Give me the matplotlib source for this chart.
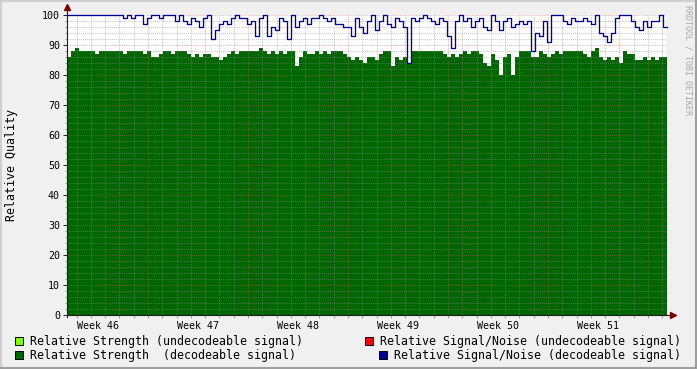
import numpy as np
import matplotlib
matplotlib.use("Agg")
import matplotlib.pyplot as plt
from matplotlib.patches import Rectangle
from matplotlib.lines import Line2D

# relative strength (decodeable), one sample per ~6.7 h
strength = [86, 88, 89, 88, 88, 88, 88, 87, 88, 88, 88, 88, 88, 88, 87, 88, 88, 88, 88, 87,
            88, 86, 86, 87, 88, 88, 87, 88, 88, 88, 87, 86, 87, 86, 87, 87, 86, 86, 85, 86,
            87, 88, 87, 88, 88, 88, 88, 88, 89, 88, 87, 88, 87, 88, 87, 88, 88, 83, 86, 88,
            87, 87, 88, 87, 88, 87, 88, 88, 88, 87, 86, 85, 86, 85, 84, 86, 86, 85, 87, 88,
            88, 83, 86, 85, 86, 84, 88, 88, 88, 88, 88, 88, 88, 88, 87, 86, 87, 86, 87, 88,
            87, 88, 88, 87, 84, 83, 87, 85, 80, 86, 87, 80, 86, 88, 88, 88, 86, 86, 88, 87,
            86, 87, 88, 87, 88, 88, 88, 88, 88, 87, 86, 88, 89, 86, 85, 86, 85, 86, 84, 88,
            87, 87, 85, 85, 86, 85, 86, 85, 86, 86]

# relative signal/noise (decodeable)
snr = [100, 100, 100, 100, 100, 100, 100, 100, 100, 100, 100, 100, 100, 100, 99, 100, 99, 100, 100, 97,
       99, 100, 100, 99, 100, 100, 100, 98, 100, 98, 97, 99, 98, 96, 99, 100, 92, 95, 97, 98,
       97, 99, 100, 99, 99, 97, 98, 93, 99, 100, 93, 96, 95, 99, 98, 92, 100, 96, 98, 99,
       97, 99, 99, 100, 99, 98, 99, 97, 97, 96, 96, 93, 99, 96, 94, 98, 100, 95, 98, 100,
       97, 96, 99, 98, 96, 84, 99, 98, 99, 100, 99, 98, 97, 99, 98, 93, 89, 98, 100, 98,
       99, 96, 98, 99, 96, 95, 100, 98, 95, 98, 99, 96, 97, 98, 97, 98, 88, 94, 93, 98,
       91, 100, 100, 100, 98, 97, 99, 98, 98, 99, 98, 97, 100, 94, 93, 91, 94, 99, 100, 100,
       100, 98, 96, 95, 98, 96, 98, 98, 100, 96]

week_labels = ["Week 46", "Week 47", "Week 48", "Week 49", "Week 50", "Week 51"]

legend_items = [
    ("Relative Strength (undecodeable signal)", "#80FF00"),
    ("Relative Strength  (decodeable signal)", "#006600"),
    ("Relative Signal/Noise (undecodeable signal)", "#FF0000"),
    ("Relative Signal/Noise (decodeable signal)", "#000099"),
]

MONO = "DejaVu Sans Mono"
plt.rcParams["font.family"] = MONO

# time axis in days since start of week 46
t_start = 1.33
step = 0.28
t = t_start + np.arange(len(strength) + 1) * step
t_end = 43.26

W, H = 697, 369
fig = plt.figure(figsize=(W / 100, H / 100), dpi=100, facecolor="#F0F0F0")
ax = fig.add_axes([67 / W, 54 / H, 599 / W, 300 / H])
ax.set_facecolor("white")

ax.fill_between(t, 0, np.append(strength, strength[-1]), step="post",
                color="#006600", lw=0, zorder=1)

# grid on top of the area, like rrdtool
for v in range(2, 101, 2):
    if v % 10:
        ax.axhline(v, color="#8C8C8C", alpha=0.5, lw=0.7, ls=(0, (1, 1)), zorder=2)
    else:
        ax.axhline(v, color="#D06060", alpha=0.45, lw=0.7, ls=(0, (1, 1)), zorder=2)
for d in range(2, 44):
    if d % 7:
        ax.axvline(d, color="#8C8C8C", alpha=0.5, lw=0.7, ls=(0, (1, 1)), zorder=2)
    else:
        ax.axvline(d, color="#D06060", alpha=0.45, lw=0.7, ls=(0, (1, 1)), zorder=2)

ax.step(t, np.append(snr, snr[-1]), where="post", color="#000099",
        lw=0.95, zorder=3, clip_on=False)

ax.set_xlim(t_start, t_end)
ax.set_ylim(0, 100)
for s in ax.spines.values():
    s.set_visible(False)

# axes with arrows
ax.add_line(Line2D([0, 0], [-0.008, 1.025], transform=ax.transAxes, color="#202020",
                   lw=0.8, clip_on=False, zorder=4))
ax.add_line(Line2D([0, 1.012], [0, 0], transform=ax.transAxes, color="#202020",
                   lw=0.8, clip_on=False, zorder=4))
ax.plot([0], [1.027], marker="^", ms=4, color="#7F0000", transform=ax.transAxes,
        clip_on=False, zorder=5)
ax.plot([1.012], [0], marker=">", ms=4, color="#7F0000", transform=ax.transAxes,
        clip_on=False, zorder=5)

ax.set_yticks(range(0, 101, 10))
ax.set_yticks(range(0, 101, 2), minor=True)
ax.tick_params(axis="y", which="major", length=3, width=0.7, color="#202020",
               labelsize=7.2, pad=2)
ax.tick_params(axis="y", which="minor", length=1.5, width=0.6, color="#8C8C8C")

ax.set_xticks([3.5 + 7 * i for i in range(len(week_labels))])
ax.set_xticklabels(week_labels)
ax.set_xticks(range(2, 44), minor=True)
ax.tick_params(axis="x", which="major", length=0, labelsize=7.2, pad=4)
ax.tick_params(axis="x", which="minor", length=2, width=0.6, color="#8C8C8C")

fig.text(12 / W, 1 - 165 / H, "Relative Quality", rotation=90, ha="center",
         va="center", fontsize=8.4)
fig.text(688 / W, 1 - 60 / H, "RRDTOOL / TOBI OETIKER", rotation=270, ha="center",
         va="center", fontsize=6, color="#A8A8A8")

# legend, drawn by hand
legend_pos = [(15, 341, 30), (15, 355, 30), (365, 341, 380), (379, 355, 394)]
for (label, col), (sx, sy, tx) in zip(legend_items, legend_pos):
    fig.patches.append(Rectangle((sx / W, 1 - (sy + 4) / H), 8 / W, 8 / H,
                                 transform=fig.transFigure, facecolor=col,
                                 edgecolor="black", lw=0.7))
    fig.text(tx / W, 1 - sy / H, label, ha="left", va="center", fontsize=8.4)

# frame shading
fig.add_artist(Line2D([0, 1], [1 - 1 / H, 1 - 1 / H], transform=fig.transFigure,
                      color="#CFCFCF", lw=1.5))
fig.add_artist(Line2D([1 / W, 1 / W], [0, 1], transform=fig.transFigure,
                      color="#CFCFCF", lw=1.5))
fig.add_artist(Line2D([0, 1], [1 / H, 1 / H], transform=fig.transFigure,
                      color="#9E9E9E", lw=1.5))
fig.add_artist(Line2D([1 - 1 / W, 1 - 1 / W], [0, 1], transform=fig.transFigure,
                      color="#9E9E9E", lw=1.5))

fig.savefig("out.png", dpi=100, facecolor=fig.get_facecolor())
